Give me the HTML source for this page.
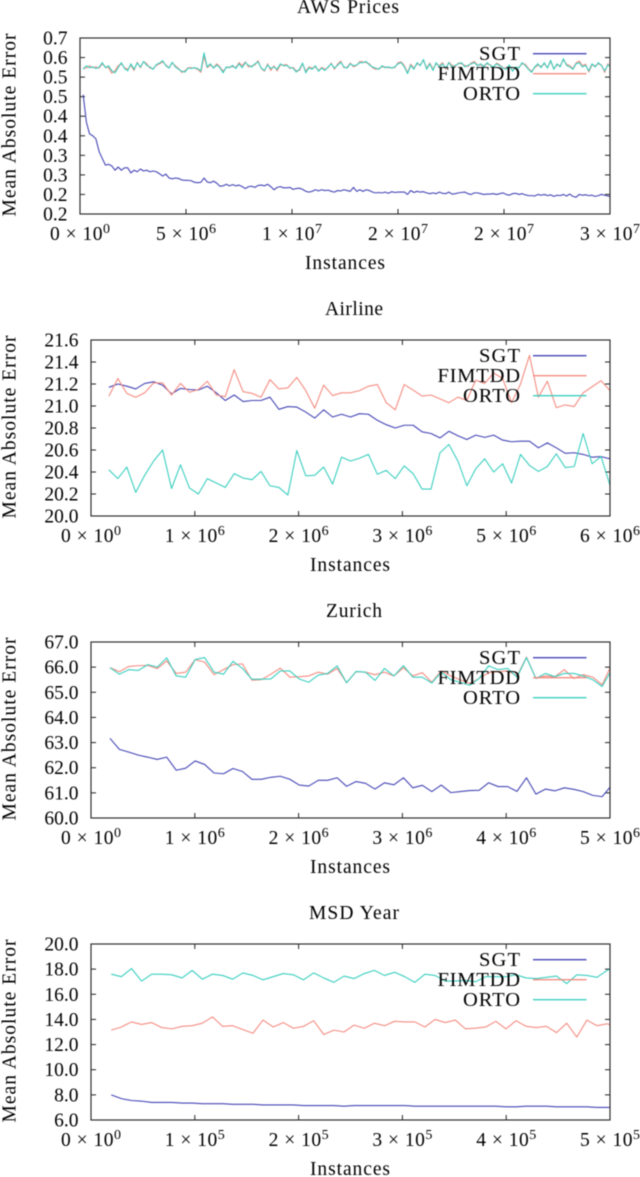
<!DOCTYPE html>
<html lang="en">
<head>
<meta charset="utf-8">
<title>Mean Absolute Error charts</title>
<style>
html,body{margin:0;padding:0;background:#fff;width:640px;height:1177px;overflow:hidden}
svg{display:block;filter:blur(0.45px)}
text{font-family:"Liberation Serif",serif;fill:#000;font-size:19.5px}
</style>
</head>
<body>
<svg id="chart" width="640" height="1177" viewBox="0 0 640 1177" xmlns="http://www.w3.org/2000/svg"></svg>
<script>
const seriesNames = ["SGT", "FIMTDD", "ORTO"];
const seriesColors = ["#4646b6", "#f48d82", "#3ccfc0"];

const awsTitle = "AWS Prices";
const awsYTicks = [0.20,0.25,0.30,0.35,0.40,0.45,0.50,0.55,0.60,0.65];
const awsYLabels = ["0.2","0.2","0.3","0.3","0.4","0.4","0.5","0.5","0.6","0.7"];
const awsXTicks = [0,5e6,1e7,1.5e7,2e7,2.5e7];
const awsXMantissas = ["0","5","1","2","2","3"];
const awsXExponents = ["0","6","7","7","7","7"];
const awsXStart = 1.5e5;
const awsXStep = 1.5e5;
const awsSGT = [.505,.435,.405,.400,.392,.360,.342,.325,.327,.323,.312,.320,.312,.318,.318,.305,.312,.308,.315,.310,.312,.308,.310,.308,.303,
.297,.302,.292,.290,.292,.291,.287,.286,.286,.285,.281,.280,.281,.292,.282,.280,.284,.279,.271,.272,.276,.272,.275,.272,.274,.270,.265,.270,.271,.268,.273,.274,
.272,.276,.270,.262,.268,.270,.267,.267,.268,.263,.265,.266,.263,.258,.256,.258,.262,.259,.262,.260,.261,.258,.256,.260,.259,.262,.260,.258,.268,.258,.262,.258,.262,.260,
.256,.254,.255,.254,.256,.253,.257,.255,.256,.256,.256,.250,.260,.255,.258,.256,.257,.254,.252,.254,.252,.256,.253,.252,.256,.251,.252,.254,.255,.256,
.252,.250,.254,.254,.252,.250,.251,.251,.252,.250,.252,.254,.250,.248,.252,.253,.250,.252,.249,.247,.247,.246,.250,.248,.250,.247,.249,.245,.248,.247,.250,.246,.251,.245,.243,.250,.248,.249,.247,.248,.245,.247,.250,.248,.246,.244];
const awsFIMTDD = [.574,.573,.579,.574,.576,.573,.584,.576,.574,.560,
.566,.579,.584,.574,.570,.580,.567,.588,.574,.590,
.584,.573,.572,.580,.584,.589,.581,.574,.586,.579,
.572,.562,.566,.574,.574,.573,.570,.562,.603,.574,
.581,.574,.584,.576,.565,.574,.576,.577,.574,.587,
.579,.589,.576,.579,.581,.592,.572,.565,.584,.567,
.579,.566,.581,.581,.582,.572,.575,.566,.567,.584,
.565,.576,.573,.576,.567,.575,.570,.574,.586,.570,
.583,.591,.574,.575,.586,.576,.580,.590,.589,.587,
.584,.574,.570,.572,.576,.576,.574,.574,.574,.587,
.589,.579,.561,.583,.573,.584,.581,.593,.573,.586,
.570,.584,.579,.587,.570,.588,.580,.577,.586,.584,
.580,.577,.586,.590,.581,.581,.579,.584,.582,.574,
.586,.581,.574,.572,.579,.567,.574,.575,.584,.583,
.572,.565,.574,.581,.577,.584,.575,.590,.572,.581,
.579,.594,.583,.579,.572,.586,.591,.579,.583,.563,
.581,.579,.584,.581,.562,.584,.574];
const awsORTO = [.570,.579,.574,.576,.572,.575,.587,.574,.579,.566,
.561,.574,.587,.572,.566,.584,.570,.586,.576,.590,
.580,.576,.570,.582,.586,.592,.579,.573,.588,.576,
.570,.565,.563,.573,.572,.574,.572,.566,.612,.576,
.584,.573,.581,.574,.561,.576,.574,.580,.572,.584,
.574,.587,.580,.576,.584,.589,.573,.567,.581,.572,
.576,.570,.584,.579,.580,.574,.573,.563,.570,.586,
.561,.574,.570,.579,.565,.573,.567,.576,.584,.573,
.580,.588,.576,.573,.584,.579,.581,.587,.587,.590,
.581,.576,.573,.570,.579,.574,.576,.573,.576,.584,
.587,.576,.559,.580,.570,.587,.579,.595,.570,.584,
.567,.587,.576,.584,.573,.587,.576,.580,.584,.587,
.576,.580,.584,.587,.579,.584,.576,.587,.580,.576,
.584,.579,.573,.570,.581,.565,.576,.573,.587,.580,
.570,.562,.576,.584,.574,.587,.573,.593,.570,.584,
.576,.597,.580,.576,.570,.584,.587,.576,.580,.566,
.584,.576,.587,.579,.566,.581,.576];

const airlineTitle = "Airline";
const airlineYTicks = [20.0,20.2,20.4,20.6,20.8,21.0,21.2,21.4,21.6];
const airlineYLabels = ["20.0","20.2","20.4","20.6","20.8","21.0","21.2","21.4","21.6"];
const airlineXTicks = [0,1.16e6,2.32e6,3.48e6,4.64e6,5.8e6];
const airlineXMantissas = ["0","1","2","3","5","6"];
const airlineXExponents = ["0","6","6","6","6","6"];
const airlineXStart = 2e5;
const airlineXStep = 1e5;
const airlineSGT = [21.17,21.20,21.18,21.155,21.205,21.22,21.19,21.11,21.16,21.15,21.145,21.18,21.12,21.05,21.10,21.04,21.05,21.05,21.08,20.97,20.995,20.99,20.945,20.89,20.965,20.90,20.925,20.90,20.93,20.925,20.87,20.83,20.80,20.825,20.825,20.765,20.75,20.71,20.77,20.73,20.695,20.735,20.715,20.735,20.69,20.675,20.68,20.68,20.62,20.665,20.62,20.57,20.575,20.56,20.535,20.54,20.52];
const airlineFIMTDD = [21.09,21.25,21.115,21.08,21.12,21.21,21.21,21.10,21.205,21.125,21.15,21.225,21.10,21.085,21.33,21.13,21.115,21.08,21.24,21.155,21.165,21.26,21.14,20.98,21.19,21.095,21.12,21.12,21.14,21.18,21.195,21.03,20.965,21.195,21.145,21.09,21.10,21.065,21.03,21.08,21.05,21.235,21.205,21.30,21.25,21.03,21.20,21.46,21.08,21.225,20.985,21.01,20.995,21.12,21.175,21.23,21.14];
const airlineORTO = [20.42,20.34,20.445,20.215,20.37,20.50,20.60,20.25,20.465,20.255,20.20,20.34,20.30,20.26,20.385,20.345,20.33,20.405,20.275,20.26,20.19,20.595,20.365,20.37,20.445,20.29,20.535,20.50,20.525,20.56,20.38,20.415,20.34,20.455,20.385,20.245,20.245,20.575,20.65,20.50,20.275,20.43,20.52,20.40,20.475,20.30,20.56,20.46,20.405,20.45,20.565,20.44,20.45,20.75,20.475,20.54,20.28];

const zurichTitle = "Zurich";
const zurichYTicks = [60,61,62,63,64,65,66,67];
const zurichYLabels = ["60.0","61.0","62.0","63.0","64.0","65.0","66.0","67.0"];
const zurichXTicks = [0,1e6,2e6,3e6,4e6,5e6];
const zurichXMantissas = ["0","1","2","3","4","5"];
const zurichXExponents = ["0","6","6","6","6","6"];
const zurichXStart = 1.824e5;
const zurichXStep = 9.12e4;
const zurichSGT = [63.17,62.73,62.62,62.50,62.42,62.33,62.42,61.90,61.98,62.27,62.13,61.79,61.76,61.97,61.85,61.54,61.54,61.62,61.66,61.54,61.31,61.27,61.50,61.50,61.60,61.26,61.45,61.38,61.15,61.40,61.32,61.60,61.20,61.30,61.05,61.31,61.01,61.05,61.09,61.10,61.40,61.25,61.25,61.06,61.60,60.95,61.15,61.08,61.20,61.14,61.05,60.90,60.85,61.30];
const zurichFIMTDD = [65.98,65.82,66.03,66.06,66.07,65.94,66.25,65.75,65.80,66.30,66.20,65.70,65.90,66.10,66.13,65.48,65.50,65.72,65.96,65.60,65.62,65.65,65.80,65.72,65.95,65.38,65.82,65.80,65.70,65.80,65.65,65.98,65.65,65.78,65.40,65.85,65.65,65.50,65.35,65.55,65.78,65.82,65.85,65.65,66.40,65.55,65.65,65.62,65.90,65.55,65.70,65.60,65.30,66.10];
const zurichORTO = [65.98,65.72,65.90,65.87,66.10,66.00,66.37,65.65,65.60,66.30,66.38,65.80,65.72,66.23,65.95,65.52,65.52,65.53,65.85,65.85,65.53,65.40,65.68,65.75,66.05,65.38,65.83,65.80,65.47,65.95,65.65,66.06,65.60,65.60,65.37,65.80,65.50,65.40,65.28,65.55,66.05,65.90,65.95,65.60,66.38,65.55,65.75,65.62,65.75,65.75,65.65,65.50,65.23,65.90];

const msdTitle = "MSD Year";
const msdYTicks = [6,8,10,12,14,16,18,20];
const msdYLabels = ["6.0","8.0","10.0","12.0","14.0","16.0","18.0","20.0"];
const msdXTicks = [0,1e5,2e5,3e5,4e5,5e5];
const msdXMantissas = ["0","1","2","3","4","5"];
const msdXExponents = ["0","5","5","5","5","5"];
const msdXStart = 1.95e4;
const msdXStep = 9.75e3;
const msdSGT = [8.0,7.7,7.55,7.5,7.4,7.4,7.4,7.35,7.35,7.3,7.3,7.3,7.25,7.25,7.25,7.2,7.2,7.2,7.2,7.15,7.15,7.15,7.15,7.1,7.15,7.15,7.15,7.15,7.15,7.15,7.1,7.1,7.1,7.1,7.1,7.1,7.1,7.1,7.1,7.05,7.05,7.1,7.1,7.1,7.05,7.05,7.05,7.05,7.0,7.0,7.0];
const msdFIMTDD = [13.15,13.4,13.8,13.6,13.75,13.35,13.25,13.45,13.5,13.7,14.2,13.45,13.5,13.2,12.9,13.95,13.4,13.75,13.3,13.45,13.9,12.8,13.15,13.0,13.55,13.3,13.7,13.5,13.85,13.8,13.8,13.4,14.0,13.75,13.95,13.25,13.3,13.4,13.85,13.25,13.9,13.45,13.35,13.45,12.95,13.7,12.6,13.95,13.5,13.65,13.4];
const msdORTO = [17.6,17.4,18.05,17.05,17.6,17.6,17.55,17.3,17.9,17.2,17.6,17.5,17.2,17.7,17.5,17.15,17.4,17.65,17.55,17.15,17.7,17.3,16.95,17.45,17.25,17.65,17.9,17.5,17.75,17.4,16.95,17.6,17.5,17.05,17.05,17.1,17.0,17.4,17.4,17.4,17.55,17.3,17.25,17.35,17.45,16.85,17.55,17.5,17.35,17.9,18.2];

const NS = "http://www.w3.org/2000/svg";
const root = document.getElementById("chart");

function mk(tag, parent, attrs) {
  const el = document.createElementNS(NS, tag);
  for (const k in attrs) el.setAttribute(k, attrs[k]);
  parent.appendChild(el);
  return el;
}

function drawPanel(slug, idx, title, titleWidth, left, titleCx, xLabelCx, yTicks, yLabels, xTicks, xMant, xExp, xStart, xStep, series) {
  const top = 38 + idx * 302, bottom = top + 176, right = 610;
  const yMin = yTicks[0], yMax = yTicks[yTicks.length - 1];
  const xMin = xTicks[0], xMax = xTicks[xTicks.length - 1];
  const sx = v => left + (v - xMin) / (xMax - xMin) * (right - left);
  const sy = v => bottom - (v - yMin) / (yMax - yMin) * (bottom - top);

  const g = mk("g", root, {});
  
  

  const t = mk("text", g, {x: titleCx, y: top - 25, "text-anchor": "middle", textLength: titleWidth});
  
  
  t.textContent = title;

  yTicks.forEach((v, i) => {
    const y = sy(v);
    const a = mk("line", g, {x1: left, x2: left + 5, y1: y, y2: y, stroke: "#222", "stroke-width": 1});
    
    
    const b = mk("line", g, {x1: right - 5, x2: right, y1: y, y2: y, stroke: "#222", "stroke-width": 1});
    
    
    const l = mk("text", g, {x: left - 12.5, y: y + 6.5, "text-anchor": "end"});
    
    
    l.textContent = yLabels[i];
  });

  xTicks.forEach((v, i) => {
    const x = sx(v);
    const a = mk("line", g, {x1: x, x2: x, y1: bottom, y2: bottom - 5, stroke: "#222", "stroke-width": 1});
    
    
    const b = mk("line", g, {x1: x, x2: x, y1: top, y2: top + 5, stroke: "#222", "stroke-width": 1});
    
    
    const l = mk("text", g, {x: x, y: bottom + 26, "text-anchor": "middle", textLength: 60});
    
    
    l.appendChild(document.createTextNode(xMant[i] + " \u00d7 10"));
    const sup = mk("tspan", l, {dy: -7, "font-size": "14px"});
    sup.textContent = xExp[i];
  });

  const clipId = "clip-" + slug;
  const defs = mk("defs", g, {});
  const clip = mk("clipPath", defs, {id: clipId});
  mk("rect", clip, {x: left, y: top, width: right - left, height: bottom - top});

  series.forEach((vals, s) => {
    const pts = vals.map((v, i) => sx(xStart + i * xStep).toFixed(2) + "," + sy(v).toFixed(2)).join(" ");
    const pl = mk("polyline", g, {points: pts, fill: "none", stroke: seriesColors[s], "stroke-width": 1.1, "stroke-linejoin": "round", "clip-path": "url(#" + clipId + ")"});
    
    
  });

  const frame = mk("rect", g, {x: left, y: top, width: right - left, height: bottom - top, fill: "none", stroke: "#222", "stroke-width": 1.1});
  
  

  const legendWidths = [41, 82.5, 57];
  seriesNames.forEach((name, s) => {
    const ly = top + 15.7 + s * 20;
    const lt = mk("text", g, {x: 520, y: ly + 6.5, "text-anchor": "end", textLength: legendWidths[s], style: "font-size:20.5px"});
    
    
    lt.textContent = name;
    const ln = mk("line", g, {x1: 533, x2: 586.5, y1: ly, y2: ly, stroke: seriesColors[s], "stroke-width": 1.4});
    
    
  });

  const xl = mk("text", g, {x: xLabelCx, y: top + 231, "text-anchor": "middle", textLength: 80});
  
  
  xl.textContent = "Instances";

  const cy = top + 87;
  const yl = mk("text", g, {x: 0, y: 0, "text-anchor": "middle", textLength: 183, transform: "translate(15.5," + cy + ") rotate(-90)"});
  
  
  yl.textContent = "Mean Absolute Error";
}

drawPanel("aws-prices", 0, awsTitle, 102, 80, 348, 345, awsYTicks, awsYLabels, awsXTicks, awsXMantissas, awsXExponents, awsXStart, awsXStep, [awsSGT, awsFIMTDD, awsORTO]);
drawPanel("airline", 1, airlineTitle, 58, 91, 354, 350, airlineYTicks, airlineYLabels, airlineXTicks, airlineXMantissas, airlineXExponents, airlineXStart, airlineXStep, [airlineSGT, airlineFIMTDD, airlineORTO]);
drawPanel("zurich", 2, zurichTitle, 56, 91, 354, 350, zurichYTicks, zurichYLabels, zurichXTicks, zurichXMantissas, zurichXExponents, zurichXStart, zurichXStep, [zurichSGT, zurichFIMTDD, zurichORTO]);
drawPanel("msd-year", 3, msdTitle, 90, 91, 354, 350, msdYTicks, msdYLabels, msdXTicks, msdXMantissas, msdXExponents, msdXStart, msdXStep, [msdSGT, msdFIMTDD, msdORTO]);
</script>
</body>
</html>
